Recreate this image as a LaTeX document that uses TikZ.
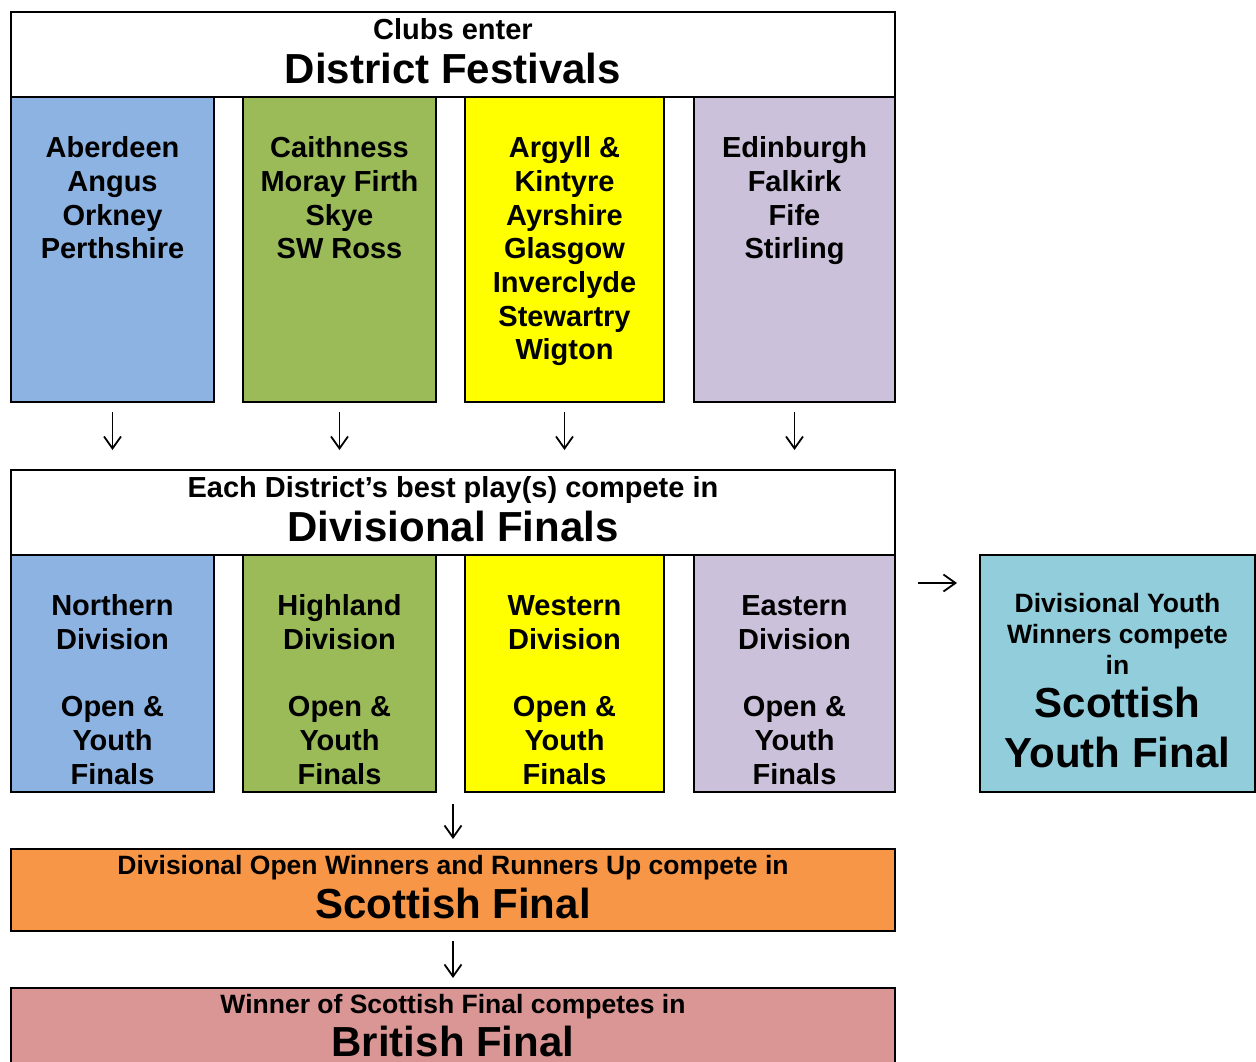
\documentclass[tikz,border=0pt]{standalone}
\usepackage{fontspec}
\setmainfont{Liberation Sans}[BoldFont={Liberation Sans Bold}]
\usetikzlibrary{arrows.meta}
\definecolor{cBlue}{HTML}{8DB3E2}
\definecolor{cGreen}{HTML}{9BBB59}
\definecolor{cYellow}{HTML}{FFFF00}
\definecolor{cPurple}{HTML}{CCC1DA}
\definecolor{cTeal}{HTML}{92CDDC}
\definecolor{cOrange}{HTML}{F79646}
\definecolor{cPink}{HTML}{D99694}
\newcommand\fsA{\fontsize{29}{33.7}\selectfont\bfseries}
\newcommand\fsB{\fontsize{26.5}{31}\selectfont\bfseries}
\newcommand\fsC{\fontsize{42}{50}\selectfont\bfseries}
\begin{document}
\begin{tikzpicture}[x=1pt,y=-1pt,
  box/.style={draw=black, line width=2pt, inner sep=0pt, outer sep=0pt, rectangle, anchor=north west},
  txt/.style={inner sep=0pt, align=center, text=black},
  tA/.style={txt, font=\fsA},
  tB/.style={txt, font=\fsB},
  tC/.style={txt, font=\fsC},
  arr/.style={line width=1.8pt, -{Straight Barb[length=12pt,width=17pt]}}]
\useasboundingbox[fill=white] (0,0) rectangle (1256,1061);
% header 1
\node[box, fill=white, minimum width=884pt, minimum height=85pt] (h1) at (11,12) {};
\node[box, fill=cBlue,   minimum width=203pt, minimum height=305pt] (d1) at (11,97) {};
\node[box, fill=cGreen,  minimum width=193pt, minimum height=305pt] (d2) at (243,97) {};
\node[box, fill=cYellow, minimum width=199pt, minimum height=305pt] (d3) at (465,97) {};
\node[box, fill=cPurple, minimum width=201pt, minimum height=305pt] (d4) at (694,97) {};
% header 2
\node[box, fill=white, minimum width=884pt, minimum height=85pt] (h2) at (11,470) {};
\node[box, fill=cBlue,   minimum width=203pt, minimum height=237pt] (e1) at (11,555) {};
\node[box, fill=cGreen,  minimum width=193pt, minimum height=237pt] (e2) at (243,555) {};
\node[box, fill=cYellow, minimum width=199pt, minimum height=237pt] (e3) at (465,555) {};
\node[box, fill=cPurple, minimum width=201pt, minimum height=237pt] (e4) at (694,555) {};
\node[box, fill=cTeal,   minimum width=275pt, minimum height=237pt] (yf) at (980,555) {};
% finals
\node[box, fill=cOrange, minimum width=884pt, minimum height=82pt] (of) at (11,849) {};
\node[box, fill=cPink,   minimum width=884pt, minimum height=95pt] (bf) at (11,988) {};
% texts
\node[tA, anchor=base] (t1a) at (453,39) {Clubs enter};
\node[tC, anchor=base] (t1b) at (453,83) {District Festivals};
\node[tA, anchor=north] (td1) at (112.5,134) {\strut Aberdeen\\Angus\\Orkney\\Perthshire};
\node[tA, anchor=north] (td2) at (339.5,134) {\strut Caithness\\Moray Firth\\Skye\\SW Ross};
\node[tA, anchor=north] (td3) at (564.5,134) {\strut Argyll \&\\Kintyre\\Ayrshire\\Glasgow\\Inverclyde\\Stewartry\\Wigton};
\node[tA, anchor=north] (td4) at (794.5,134) {\strut Edinburgh\\Falkirk\\Fife\\Stirling};
\node[tA, anchor=base] (t2a) at (453,497) {Each District’s best play(s) compete in};
\node[tC, anchor=base] (t2b) at (453,541) {Divisional Finals};
\node[tA, anchor=north] (te1) at (112.5,592) {\strut Northern\\Division\\\mbox{}\\Open \&\\Youth\\Finals};
\node[tA, anchor=north] (te2) at (339.5,592) {\strut Highland\\Division\\\mbox{}\\Open \&\\Youth\\Finals};
\node[tA, anchor=north] (te3) at (564.5,592) {\strut Western\\Division\\\mbox{}\\Open \&\\Youth\\Finals};
\node[tA, anchor=north] (te4) at (794.5,592) {\strut Eastern\\Division\\\mbox{}\\Open \&\\Youth\\Finals};
\node[tB, anchor=north] (tya) at (1117.5,591) {\strut Divisional Youth\\Winners compete\\in};
\node[tC, anchor=north] (tyb) at (1117.5,682) {\strut Scottish\\Youth Final};
\node[tB, anchor=base] (toa) at (453,874.5) {Divisional Open Winners and Runners Up compete in};
\node[tC, anchor=base] (tob) at (453,918) {Scottish Final};
\node[tB, anchor=base] (tba) at (453,1013.5) {Winner of Scottish Final competes in};
\node[tC, anchor=base] (tbb) at (453,1056) {British Final};
% arrows
\foreach \n in {d1,d2,d3,d4}
  \draw[arr, shorten <=10pt, shorten >=20pt] (\n.south) -- (\n.south |- h2.north);
\draw[arr, shorten <=23pt, shorten >=23pt] ([yshift=-28pt]e4.north east) -- ([yshift=-28pt]e4.north east -| yf.west);
\draw[arr, shorten <=12pt, shorten >=10pt] (of.north |- e3.south) -- (of.north);
\draw[arr, shorten <=10pt, shorten >=10pt] (of.south) -- (bf.north);
\end{tikzpicture}
\end{document}
